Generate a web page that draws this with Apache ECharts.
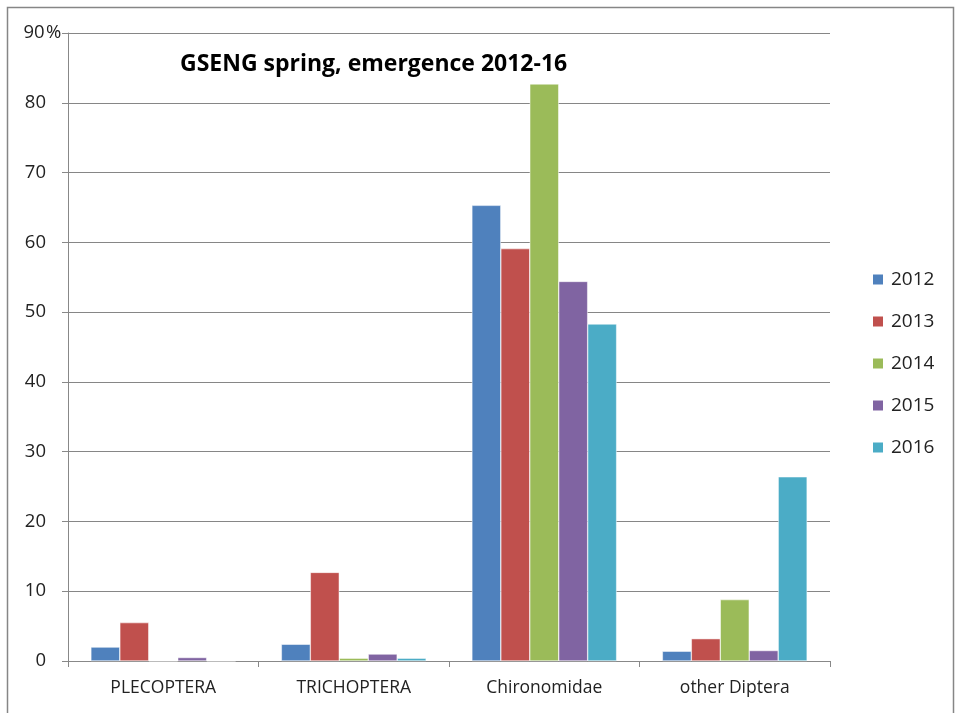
<!DOCTYPE html>
<html><head><meta charset="utf-8">
<script src="https://cdn.jsdelivr.net/npm/echarts@6/dist/echarts.min.js"></script>
<style>html,body{margin:0;padding:0;background:#fff}#c{width:956px;height:713px}</style>
</head><body><div id="c"></div>
<script>
const categories = ['PLECOPTERA', 'TRICHOPTERA', 'Chironomidae', 'other Diptera'];
const years = ['2012', '2013', '2014', '2015', '2016'];
const v2012 = [2.0, 2.4, 65.3, 1.4];
const v2013 = [5.5, 12.7, 59.1, 3.2];
const v2014 = [0, 0.4, 82.7, 8.8];
const v2015 = [0.5, 1.0, 54.4, 1.5];
const v2016 = [0, 0.4, 48.3, 26.4];
const yTicks = [0, 10, 20, 30, 40, 50, 60, 70, 80, 90];
const colors = ['#4F81BD', '#C0504D', '#9BBB59', '#8064A2', '#4BACC6'];
const seriesValues = [v2012, v2013, v2014, v2015, v2016];

const chart = echarts.init(document.getElementById('c'));
const font = '"Open Sans", "Liberation Sans", sans-serif';
chart.setOption({
  animation: false,
  textStyle: {fontFamily: font},
  title: {
    text: 'GSENG spring, emergence 2012-16',
    left: 175, top: 48,
    textStyle: {fontSize: 23, fontWeight: 'bold', color: '#000', fontFamily: font}
  },
  legend: {
    orient: 'vertical', left: 866, top: 265, itemGap: 23,
    itemWidth: 12, itemHeight: 12, icon: 'rect',
    textStyle: {fontSize: 19, color: '#222', fontFamily: font, padding: [0, 0, 0, 2]},
    data: years
  },
  grid: {left: 68, right: 126, top: 33, bottom: 52, containLabel: false},
  xAxis: {
    type: 'category', data: categories,
    axisLine: {lineStyle: {color: '#888', width: 1}},
    axisTick: {show: true, alignWithLabel: false, length: 6, lineStyle: {color: '#888'}},
    axisLabel: {fontSize: 17.5, color: '#222', margin: 18}
  },
  yAxis: {
    type: 'value', min: 0, max: 90, interval: 10,
    axisLine: {show: true, lineStyle: {color: '#888'}},
    axisTick: {show: true, length: 6, lineStyle: {color: '#888'}},
    axisLabel: {fontSize: 18.5, color: '#222', margin: 46, align: 'left',
      formatter: v => yTicks.includes(v) ? (v === 90 ? '{n|90}{p|%}' : '{n|' + v + '}') : '',
      rich: {
        n: {fontSize: 18.5, color: '#222', fontFamily: font, width: 24, align: 'right'},
        p: {fontSize: 18.5, color: '#222', fontFamily: font}
      }
    },
    splitLine: {lineStyle: {color: '#868686', width: 1}}
  },
  series: years.map((y, i) => ({
    name: y, type: 'bar', data: seriesValues[i],
    barGap: '0%', barCategoryGap: '24%',
    itemStyle: {color: colors[i], borderColor: '#fff', borderWidth: 0.5}
  })),
  graphic: [{
    type: 'rect', shape: {x: 7.5, y: 7.5, width: 946, height: 720},
    style: {fill: 'none', stroke: '#868686', lineWidth: 1.5}, silent: true
  }]
});
</script></body></html>
